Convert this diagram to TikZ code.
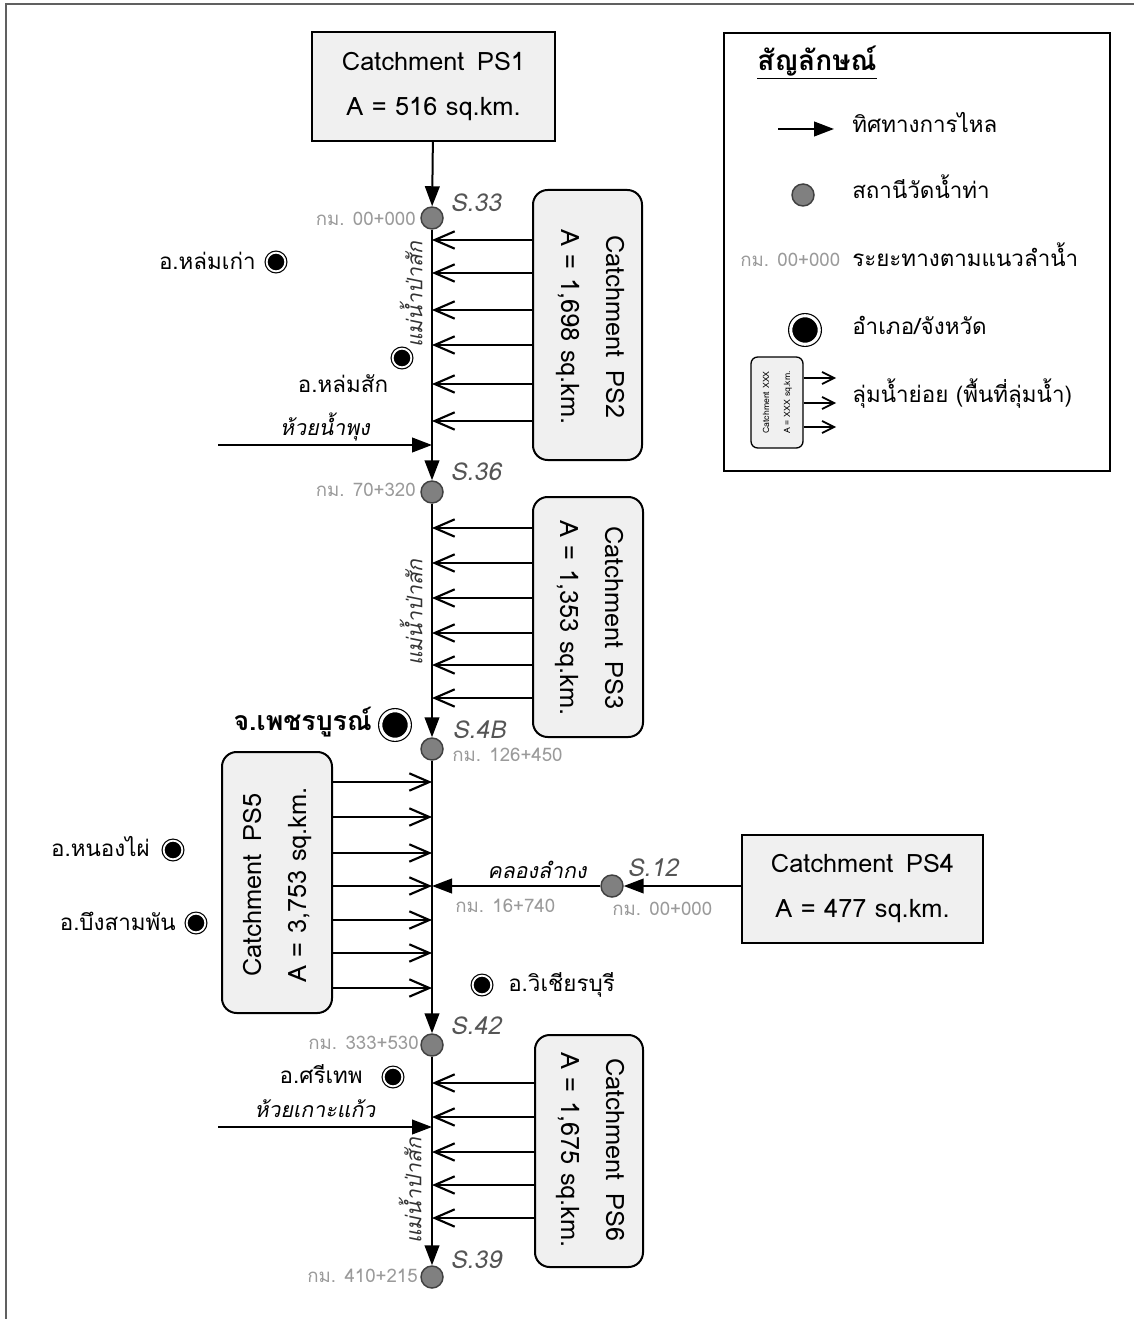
\documentclass[tikz,border=0pt]{standalone}
\usepackage{fontspec}
\setmainfont{Loma}[Script=Thai]
\newfontfamily\thit{Loma}[Script=Thai,FakeSlant=0.2]
\usetikzlibrary{arrows.meta,calc}
\definecolor{boxfill}{HTML}{F0F0F0}
\definecolor{stfill}{HTML}{808080}
\definecolor{stdraw}{HTML}{404040}
\definecolor{kmgray}{HTML}{9A9A9A}
\definecolor{slab}{HTML}{555555}
\definecolor{framec}{HTML}{606060}
\tikzset{
  txt/.style={inner sep=0pt, font=\fontsize{16.8}{20}\selectfont},
  boldtxt/.style={inner sep=0pt, font=\bfseries\fontsize{20}{24}\selectfont},
  boxtext/.style={inner sep=0pt, align=center, font=\fontsize{19}{33.75}\selectfont},
  box/.style={draw=black, fill=boxfill, line width=1.5pt, inner sep=0pt},
  rbox/.style={box, rounded corners=11pt},
  station/.style={circle, draw=stdraw, fill=stfill, line width=1.1pt, minimum size=16.5pt, inner sep=0pt},
  district/.style={circle, fill=black, draw=black, double=white, double distance=1.4pt, line width=0.9pt, minimum size=14pt, inner sep=0pt},
  bigdistrict/.style={circle, fill=black, draw=black, double=white, double distance=2.3pt, line width=0.9pt, minimum size=21.4pt, inner sep=0pt},
  tri/.style={-{Triangle[length=15pt,width=11pt]}, line width=1.5pt},
  barb/.style={-{Straight Barb[length=15pt,width=13pt,line width=1.6pt]}, line width=1.5pt},
  smallbarb/.style={-{Straight Barb[length=9pt,width=9pt,line width=1.3pt]}, line width=1.3pt},
  kmlab/.style={inner sep=0pt, text=kmgray, font=\fontsize{14}{16}\selectfont},
  slabel/.style={inner sep=0pt, text=slab, font=\thit\fontsize{18.5}{21}\selectfont},
  tribl/.style={inner sep=0pt, font=\thit\fontsize{16}{19}\selectfont},
  riverl/.style={inner sep=0pt, rotate=90, text=black!80, font=\thit\fontsize{16}{19}\selectfont}
}
\begin{document}
\begin{tikzpicture}[x=0.75pt,y=-0.75pt]
\useasboundingbox (0,0) rectangle (1134,1319);
\draw[framec, line width=1.5pt] (6,1319) -- (6,4) -- (1134,4);

% catchment boxes
\node[box, minimum width=182.25pt, minimum height=81.75pt, boxtext] (ps1) at (433.5,86.5) {Catchment\hspace{0.5em}PS1\\A = 516 sq.km.};
\node[box, minimum width=180.75pt, minimum height=81pt, boxtext] (ps4) at (862.5,889) {Catchment\hspace{0.5em}PS4\\A = 477 sq.km.};
\node[rbox, minimum width=81.75pt, minimum height=202.5pt] (ps2) at (587.5,325) {};
\node[boxtext, rotate=-90] (ps2t) at (590,327) {Catchment\hspace{0.5em}PS2\\A = 1,698 sq.km.};
\node[rbox, minimum width=82.5pt, minimum height=180pt] (ps3) at (588,617) {};
\node[boxtext, rotate=-90] (ps3t) at (589,618) {Catchment\hspace{0.5em}PS3\\A = 1,353 sq.km.};
\node[rbox, minimum width=82.5pt, minimum height=195.75pt] (ps5) at (277,882.5) {};
\node[boxtext, rotate=90] (ps5t) at (277.5,885) {Catchment\hspace{0.5em}PS5\\A = 3,753 sq.km.};
\node[rbox, minimum width=81pt, minimum height=174pt] (ps6) at (589,1151) {};
\node[boxtext, rotate=-90] (ps6t) at (590,1150) {Catchment\hspace{0.5em}PS6\\A = 1,675 sq.km.};

% stations
\node[station] (s33) at (432,218) {};
\node[station] (s36) at (432,492) {};
\node[station] (s4b) at (432,749) {};
\node[station] (s42) at (432,1045) {};
\node[station] (s39) at (432,1277) {};
\node[station] (s12) at (612,886) {};

% main river
\draw[tri] (ps1) -- (s33);
\draw[tri] (s33) -- (s36);
\draw[tri] (s36) -- (s4b);
\draw[tri] (s4b) -- (s42);
\draw[tri] (s42) -- (s39);
\draw[tri] (ps4.west |- s12) -- (s12);
\draw[tri] (s12) -- (s12 -| s4b);

% tributaries
\coordinate (hnp) at (218,445);
\draw[tri] (hnp) -- (hnp -| s33);
\coordinate (hkk) at (218,1127);
\draw[tri] (hkk) -- (hkk -| s42);

% lateral inflows
\foreach \y in {240,273,310,345,384,421} \draw[barb] (ps2.west |- 0,\y) -- (s33 |- 0,\y);
\foreach \y in {528,563,598,633,665,698} \draw[barb] (ps3.west |- 0,\y) -- (s36 |- 0,\y);
\foreach \y in {782,817,853,886,920,953,988} \draw[barb] (ps5.east |- 0,\y) -- (s4b |- 0,\y);
\foreach \y in {1083,1117,1152,1185,1218} \draw[barb] (ps6.west |- 0,\y) -- (s42 |- 0,\y);

% station labels
\node[slabel, anchor=mid west] (l33) at (450,208) {S.33};
\node[slabel, anchor=mid west] (l36) at (450,477) {S.36};
\node[slabel, anchor=mid west] (l4b) at (452,735) {S.4B};
\node[slabel, anchor=mid west] (l42) at (450,1031) {S.42};
\node[slabel, anchor=mid west] (l39) at (450,1265) {S.39};
\node[slabel, anchor=mid west] (l12) at (627,873) {S.12};

% km labels
\node[kmlab, anchor=mid east] (k33) at (416,222) {กม. 00+000};
\node[kmlab, anchor=mid east] (k36) at (416,493) {กม. 70+320};
\node[kmlab, anchor=mid west] (k4b) at (452,758) {กม. 126+450};
\node[kmlab, anchor=mid east] (k42) at (419,1046) {กม. 333+530};
\node[kmlab, anchor=mid east] (k39) at (418,1279) {กม. 410+215};
\node[kmlab, anchor=mid west] (k16) at (455,909) {กม. 16+740};
\node[kmlab, anchor=mid west] (k12) at (612,912) {กม. 00+000};

% districts
\node[district] (d1) at (276,262) {};
\node[txt, anchor=mid east] (d1t) at (256,266) {อ.หล่มเก่า};
\node[district] (d2) at (402,358) {};
\node[txt, anchor=mid] (d2t) at (343,389) {อ.หล่มสัก};
\node[bigdistrict] (d3) at (395,725) {};
\node[boldtxt, anchor=mid east] (d3t) at (372,727) {จ.เพชรบูรณ์};
\node[district] (d4) at (173,850) {};
\node[txt, anchor=mid east] (d4t) at (150,853) {อ.หนองไผ่};
\node[district] (d5) at (196,923) {};
\node[txt, anchor=mid east] (d5t) at (176,927) {อ.บึงสามพัน};
\node[district] (d6) at (482,985) {};
\node[txt, anchor=mid west] (d6t) at (508,988) {อ.วิเชียรบุรี};
\node[district] (d7) at (393,1077) {};
\node[txt, anchor=mid east] (d7t) at (363,1080) {อ.ศรีเทพ};

% stream labels
\node[tribl, anchor=mid] (t1) at (325,432) {ห้วยน้ำพุง};
\node[tribl, anchor=mid] (t2) at (315,1114) {ห้วยเกาะแก้ว};
\node[tribl, anchor=mid] (t3) at (537,875) {คลองลำกง};
\node[riverl, anchor=mid] (r1) at (419,295) {แม่น้ำป่าสัก};
\node[riverl, anchor=mid] (r2) at (419,613) {แม่น้ำป่าสัก};
\node[riverl, anchor=mid] (r3) at (418,1191) {แม่น้ำป่าสัก};

% legend
\node[draw=black, line width=1.5pt, minimum width=289.5pt, minimum height=328.5pt, inner sep=0pt] (leg) at (917,252) {};
\node[boldtxt, anchor=mid west, font=\bfseries\fontsize{21}{25}\selectfont] (legt) at (757,67) {\underline{สัญลักษณ์}};
\coordinate (la1) at (778,129);
\coordinate (la2) at (834,129);
\draw[tri] (la1) -- (la2);
\node[txt, anchor=mid west] (lg1) at (852,129) {ทิศทางการไหล};
\node[station] (lst) at (803,195) {};
\node[txt, anchor=mid west] (lg2) at (852,195) {สถานีวัดน้ำท่า};
\node[kmlab, anchor=mid west] (lkm) at (740,263) {กม. 00+000};
\node[txt, anchor=mid west] (lg3) at (852,263) {ระยะทางตามแนวลำน้ำ};
\node[bigdistrict] (ldist) at (805,330) {};
\node[txt, anchor=mid west] (lg4) at (852,331) {อำเภอ/จังหวัด};
\node[rbox, line width=1pt, rounded corners=5pt, minimum width=39pt, minimum height=68.25pt] (lbox) at (777,402.5) {};
\node[rotate=90, align=center, inner sep=0pt, font=\fontsize{6.5}{15.75}\selectfont] (lboxt) at (777.5,402.5) {Catchment XXX\\A = XXX sq.km.};
\foreach \y in {378,403,427} \draw[smallbarb] (lbox.east |- 0,\y) -- (836,\y);
\node[txt, anchor=mid west] (lg5) at (852,399) {ลุ่มน้ำย่อย (พื้นที่ลุ่มน้ำ)};
\end{tikzpicture}
\end{document}
